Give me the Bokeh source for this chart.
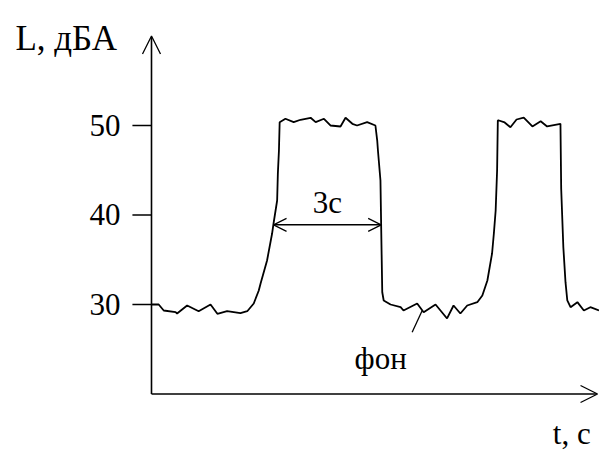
from bokeh.plotting import figure
from bokeh.models import Range1d, Arrow, OpenHead, ColumnDataSource
from bokeh.core.properties import value
from bokeh.embed import file_html
from bokeh.resources import INLINE

# ---- data (time in seconds, level in dBA) ----
t_vals = [0.00, 0.20, 0.34, 0.67, 0.71, 0.99, 1.31, 1.64, 1.83, 2.10, 2.47, 2.66,
          2.84, 2.98, 3.03, 3.21, 3.35, 3.39, 3.49, 3.51, 3.54, 3.56,
          3.72, 3.95, 4.14, 4.42, 4.56, 4.79, 4.97, 5.25, 5.39, 5.58, 5.71, 5.99, 6.22,
          6.27, 6.29, 6.36, 6.38, 6.41, 6.45,
          6.64, 6.92, 7.00, 7.38, 7.56, 7.89, 8.21, 8.39, 8.58, 8.77, 9.05,
          9.19, 9.33, 9.46, 9.51, 9.56, 9.60, 9.62,
          9.65, 9.81, 9.97, 10.14, 10.34, 10.58, 10.81, 10.99, 11.36,
          11.38, 11.44, 11.50, 11.55,
          11.64, 11.83, 12.01, 12.19, 12.43]
L_vals = [30.0, 30.0, 29.33, 29.14, 28.99, 29.89, 29.25, 30.0, 28.96, 29.25, 29.03, 29.25,
          30.11, 31.56, 32.35, 34.92, 37.93, 39.05, 41.62, 44.64, 47.21, 50.37,
          50.75, 50.37, 50.64, 50.86, 50.37, 50.75, 50.0, 49.89, 50.86, 50.19, 50.0, 50.37, 50.0,
          48.32, 47.21, 43.85, 38.64, 31.37, 30.45,
          30.0, 29.70, 29.33, 30.11, 29.14, 30.0, 28.44, 29.89, 28.99, 29.89, 30.26,
          31.01, 32.68, 35.70, 37.93, 40.50, 44.97, 50.56,
          50.56, 50.34, 49.81, 50.67, 50.89, 49.89, 50.48, 49.89, 50.19,
          42.96, 36.40, 32.49, 30.45,
          29.70, 30.26, 29.33, 29.70, 29.33]

y_ticks = [30, 40, 50]
y_tick_labels = ["30", "40", "50"]

axis_origin = (0.0, 20.0)
y_axis_top = 60.0
x_axis_end = 12.39

duration_start = 3.39   # rising edge of first pulse
duration_end = 6.38     # falling edge of first pulse
duration_level = 38.9
duration_label = "3с"

bg_pointer_t = [7.24, 7.52]
bg_pointer_L = [26.9, 29.33]
bg_label = "фон"

y_label = "L, дБА"
x_label = "t, с"

FONT = value("Liberation Serif")

p = figure(width=599, height=450, output_backend="svg", toolbar_location=None,
           x_range=Range1d(-4.1944, 12.4444), y_range=Range1d(13.687, 63.966),
           x_axis_type=None, y_axis_type=None, min_border=0)
p.outline_line_color = None
p.grid.visible = False
p.background_fill_color = "white"
p.border_fill_color = "white"

# axes
x0, y0 = axis_origin
p.add_layout(Arrow(x_start=x0, y_start=y0, x_end=x0, y_end=y_axis_top,
                   line_width=1.6, line_color="black",
                   end=OpenHead(size=18, line_width=1.3, line_color="black")))
p.add_layout(Arrow(x_start=x0, y_start=y0, x_end=x_axis_end, y_end=y0,
                   line_width=1.6, line_color="black",
                   end=OpenHead(size=17, line_width=1.3, line_color="black")))

# ticks (drawn outward from the axis)
p.segment(x0=[x0 - 0.53] * len(y_ticks), y0=y_ticks, x1=[x0] * len(y_ticks), y1=y_ticks,
          line_color="black", line_width=1.6)
p.text(x=[x0 - 0.86] * len(y_ticks), y=y_ticks, text=y_tick_labels,
       text_font=FONT, text_font_size="31px", text_align="right",
       text_baseline="alphabetic", text_color="black")

# signal
src = ColumnDataSource(dict(t=t_vals, L=L_vals))
p.line("t", "L", source=src, line_color="black", line_width=1.8)

# duration arrow
p.add_layout(Arrow(x_start=duration_start, y_start=duration_level,
                   x_end=duration_end, y_end=duration_level,
                   line_width=1.5, line_color="black",
                   start=OpenHead(size=13, line_width=1.2, line_color="black"),
                   end=OpenHead(size=13, line_width=1.2, line_color="black")))
p.text(x=[(duration_start + duration_end) / 2], y=[41.4], text=[duration_label],
       text_font=FONT, text_font_size="31px", text_align="center",
       text_baseline="alphabetic", text_color="black")

# background pointer
p.line(bg_pointer_t, bg_pointer_L, line_color="black", line_width=1.3)
p.text(x=[5.64], y=[23.97], text=[bg_label], text_font=FONT, text_font_size="31px",
       text_align="left", text_baseline="alphabetic", text_color="black")

# axis titles
p.text(x=[-3.78], y=[59.72], text=[y_label], text_font=FONT, text_font_size="35px",
       text_align="left", text_baseline="alphabetic", text_color="black")
p.text(x=[12.2], y=[15.6], text=[x_label], text_font=FONT, text_font_size="31px",
       text_align="right", text_baseline="alphabetic", text_color="black")

open("out.html", "w").write(file_html(p, INLINE))
